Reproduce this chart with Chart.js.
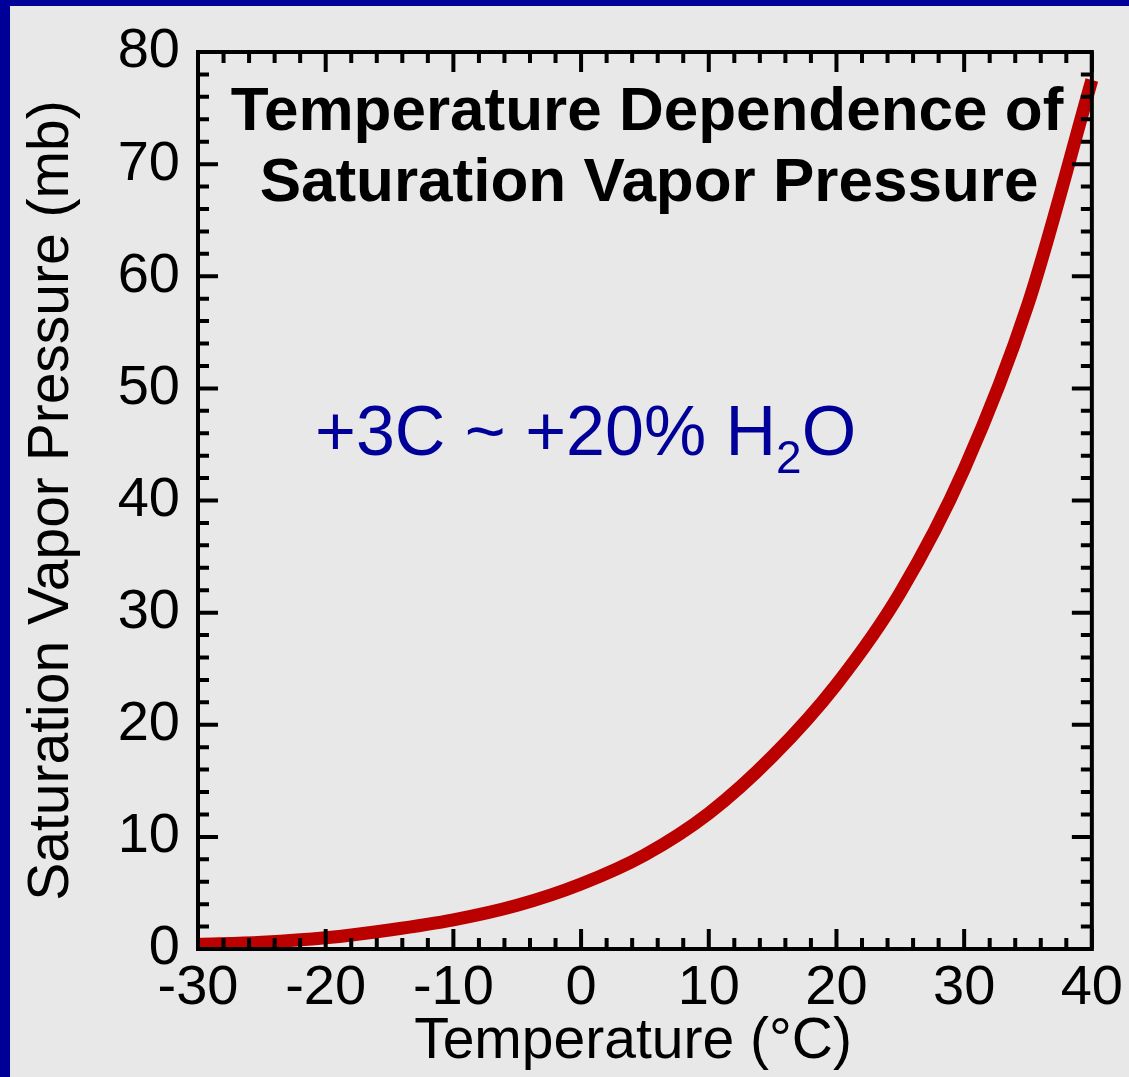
<!DOCTYPE html>
<html>
<head>
<meta charset="utf-8">
<title>Saturation Vapor Pressure</title>
<script src="https://cdn.jsdelivr.net/npm/chart.js@4.4.1/dist/chart.umd.min.js"></script>
<style>
  html, body { margin: 0; padding: 0; background: #e8e8e8; }
  canvas { display: block; }
</style>
</head>
<body>
<canvas id="myChart" width="1129" height="1077"></canvas>
<script>
// temperature (deg C) and saturation vapor pressure (mb)
const temps = [-30, -25, -20, -15, -10, -5, 0, 5, 10, 15, 20, 25, 30, 35, 40];
const pressures = [0.4, 0.6, 1.0, 1.7, 2.6, 3.9, 5.8, 8.4, 12.1, 17.2, 23.6, 31.8, 42.8, 57.5, 77.5];

const xTicks = [-30, -20, -10, 0, 10, 20, 30, 40];
const yTicks = [0, 10, 20, 30, 40, 50, 60, 70, 80];

const FONT = "'Liberation Sans', Arial, Helvetica, sans-serif";
const BLUE = '#000099';

// page background + blue strips on top / left
const backdrop = {
  id: 'backdrop',
  beforeDraw(chart) {
    const ctx = chart.ctx;
    ctx.save();
    ctx.fillStyle = '#e8e8e8';
    ctx.fillRect(0, 0, chart.width, chart.height);
    ctx.fillStyle = BLUE;
    ctx.fillRect(0, 0, chart.width, 6);
    ctx.fillRect(0, 0, 10, chart.height);
    ctx.restore();
  }
};

// box around plot area with inward major/minor ticks on all sides
const frameTicks = {
  id: 'frameTicks',
  afterDatasetsDraw(chart) {
    const {ctx, chartArea: a, scales: {x, y}} = chart;
    ctx.save();
    ctx.strokeStyle = '#000';
    ctx.lineWidth = 4;
    ctx.lineCap = 'butt';
    ctx.beginPath();
    for (let v = x.min; v <= x.max; v += 2) {
      const px = x.getPixelForValue(v);
      const len = v % 10 === 0 ? 20 : 11;
      ctx.moveTo(px, a.bottom); ctx.lineTo(px, a.bottom - len);
      ctx.moveTo(px, a.top); ctx.lineTo(px, a.top + len);
    }
    for (let v = y.min; v <= y.max; v += 2) {
      const py = y.getPixelForValue(v);
      const len = v % 10 === 0 ? 20 : 11;
      ctx.moveTo(a.left, py); ctx.lineTo(a.left + len, py);
      ctx.moveTo(a.right, py); ctx.lineTo(a.right - len, py);
    }
    ctx.stroke();
    ctx.lineJoin = 'miter';
    ctx.strokeRect(a.left, a.top, a.right - a.left, a.bottom - a.top);
    ctx.restore();
  }
};

// title inside the plot, blue note, x axis label
const labels = {
  id: 'labels',
  afterDraw(chart) {
    const ctx = chart.ctx;
    ctx.save();
    ctx.fillStyle = '#000';
    ctx.textAlign = 'center';
    ctx.textBaseline = 'alphabetic';
    ctx.font = 'bold 62px ' + FONT;
    ctx.fillText('Temperature Dependence of', 647, 130);
    ctx.fillText('Saturation Vapor Pressure', 649, 201);

    ctx.font = '57px ' + FONT;
    ctx.fillText('Temperature (°C)', 633, 1058);

    ctx.fillStyle = BLUE;
    ctx.textAlign = 'left';
    let xx = 315;
    const base = 455;
    ctx.font = '70px ' + FONT;
    const part1 = '+3C ~ +20% H';
    ctx.fillText(part1, xx, base);
    xx += ctx.measureText(part1).width;
    ctx.font = '46px ' + FONT;
    ctx.fillText('2', xx, base + 18);
    xx += ctx.measureText('2').width;
    ctx.font = '70px ' + FONT;
    ctx.fillText('O', xx, base);
    ctx.restore();
  }
};

const ctx = document.getElementById('myChart').getContext('2d');
const myChart = new Chart(ctx, {
  type: 'line',
  data: {
    datasets: [{
      data: temps.map((t, i) => ({x: t, y: pressures[i]})),
      borderColor: '#bb0000',
      borderWidth: 13,
      pointRadius: 0,
      cubicInterpolationMode: 'monotone',
      clip: false
    }]
  },
  options: {
    responsive: false,
    animation: false,
    layout: { padding: { left: 0, top: 52, right: 36, bottom: 0 } },
    plugins: { legend: { display: false }, tooltip: { enabled: false } },
    scales: {
      x: {
        type: 'linear',
        min: -30, max: 40,
        afterFit(scale) { scale.height = 128; },
        afterBuildTicks(scale) { scale.ticks = xTicks.map(v => ({value: v})); },
        grid: { display: false, drawTicks: false },
        border: { display: false },
        ticks: { color: '#000', font: { family: FONT, size: 56 }, padding: 6, maxRotation: 0 },
        title: { display: false }
      },
      y: {
        min: 0, max: 80,
        afterFit(scale) { scale.width = 198; },
        afterBuildTicks(scale) { scale.ticks = yTicks.map(v => ({value: v})); },
        grid: { display: false, drawTicks: false },
        border: { display: false },
        ticks: { color: '#000', font: { family: FONT, size: 56 }, padding: 18 },
        title: { display: true, text: 'Saturation Vapor Pressure (mb)', color: '#000',
                 font: { family: FONT, size: 57 }, padding: { top: 18, bottom: 0 } }
      }
    }
  },
  plugins: [backdrop, frameTicks, labels]
});
</script>
</body>
</html>
